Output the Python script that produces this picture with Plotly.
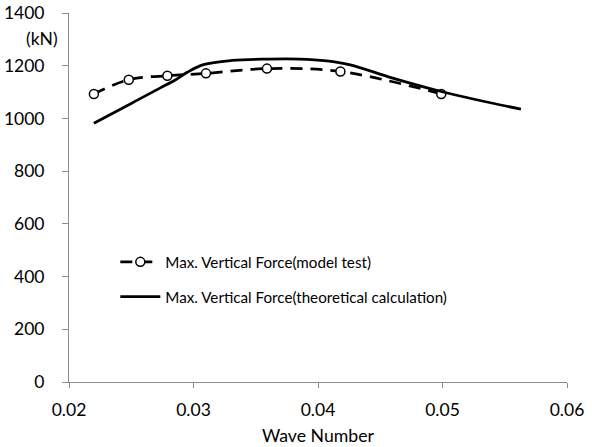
import plotly.graph_objects as go

test_x = [0.0220, 0.0248, 0.0279, 0.0310, 0.0359, 0.0418, 0.0499]
test_y = [1093, 1147, 1162, 1171, 1189, 1178, 1093]

theory_x = [0.0220, 0.0250, 0.0273, 0.0285, 0.0295, 0.0308, 0.0331, 0.0360, 0.0385, 0.0407, 0.0425, 0.0460, 0.0499, 0.0530, 0.0563]
theory_y = [982, 1057, 1115, 1145, 1175, 1204, 1220, 1225, 1225, 1218, 1204, 1153, 1102, 1068, 1035]

x_ticks = [0.02, 0.03, 0.04, 0.05, 0.06]
y_ticks = [0, 200, 400, 600, 800, 1000, 1200, 1400]

FONT = "Lato"

fig = go.Figure()
fig.add_trace(go.Scatter(
    x=test_x, y=test_y, mode="lines+markers",
    name="Max. Vertical Force(model test)",
    line=dict(color="black", width=2.75, dash="12px,8px", shape="spline"),
    marker=dict(symbol="circle", size=9, color="white", line=dict(color="black", width=1.5)),
    legendgroup="a",
))
fig.add_trace(go.Scatter(
    x=theory_x, y=theory_y, mode="lines",
    name="Max. Vertical Force(theoretical calculation)",
    line=dict(color="black", width=2.75, shape="spline"),
    legendgroup="b",
))

fig.update_layout(
    width=592, height=447,
    margin=dict(l=69, r=25, t=13, b=65, autoexpand=False),
    paper_bgcolor="white", plot_bgcolor="white",
    font=dict(family=FONT, color="black", size=17.5),
    showlegend=True,
    legend=dict(x=0.093, y=0.37, xanchor="left", yanchor="top",
                font=dict(size=15.2, family=FONT), bgcolor="rgba(0,0,0,0)",
                tracegroupgap=12, itemwidth=40),
    xaxis=dict(range=[0.02, 0.06], tickvals=x_ticks, ticktext=[f"{v:.2f}" for v in x_ticks],
               showgrid=False, zeroline=False, showline=True, linecolor="#8c8c8c", linewidth=1,
               ticks="outside", ticklen=5, tickcolor="#8c8c8c", automargin=False,
               ticklabelstandoff=7,
               title=dict(text="Wave Number", font=dict(size=17.7), standoff=10),
               tickfont=dict(size=17.5)),
    yaxis=dict(range=[0, 1400], tickvals=y_ticks,
               showgrid=False, zeroline=False, showline=True, linecolor="#8c8c8c", linewidth=1,
               ticks="outside", ticklen=6, tickcolor="#8c8c8c", automargin=False,
               ticklabelstandoff=14,
               tickfont=dict(size=17.5)),
    annotations=[dict(text="(kN)", xref="paper", yref="paper", x=-0.055, y=0.93,
                      xanchor="center", yanchor="middle", showarrow=False,
                      font=dict(size=17.5, family=FONT))],
)

fig.write_html("out.html", config={"displayModeBar": False},
               post_script="document.body.style.margin='0';")
